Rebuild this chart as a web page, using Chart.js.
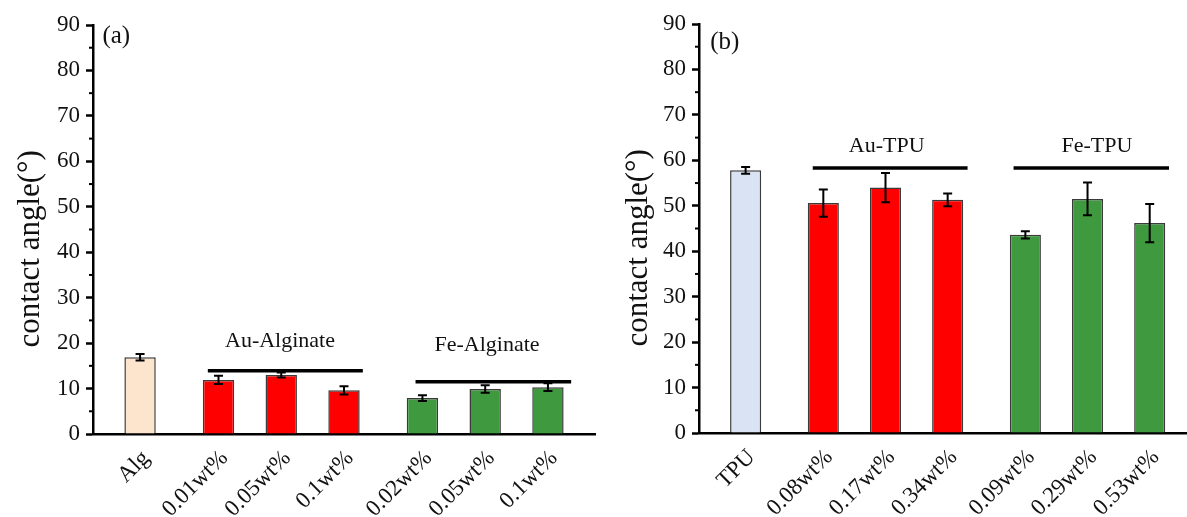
<!DOCTYPE html>
<html>
<head>
<meta charset="utf-8">
<script src="https://cdn.jsdelivr.net/npm/chart.js@4.4.1/dist/chart.umd.min.js"></script>
<style>
  html, body { margin: 0; padding: 0; background: #fff; overflow: hidden; }
  #wrapA { position: absolute; left: 0; top: 0; width: 600px; height: 517px; }
  #wrapB { position: absolute; left: 600px; top: 0; width: 587px; height: 517px; }
</style>
</head>
<body>
<div id="wrapA"><canvas id="chartA"></canvas></div>
<div id="wrapB"><canvas id="chartB"></canvas></div>
<script>
// slots on the x axis: control bar, then two groups of three
const positions = [0, 1.25, 2.25, 3.25, 4.5, 5.5, 6.5];

// (a) alginate
const labelsA = ["Alg", "0.01wt%", "0.05wt%", "0.1wt%", "0.02wt%", "0.05wt%", "0.1wt%"];
const valuesA = [16.9, 11.9, 13.0, 9.6, 7.9, 9.9, 10.3];
const errorsA = [0.7, 0.9, 0.55, 0.9, 0.65, 0.85, 0.85];
const groupNamesA = ["Au-Alginate", "Fe-Alginate"];
const groupSpanA = [[1.08, 3.55], [4.39, 6.87]];
const groupLineA = [13.9, 11.5];
const groupTextA = [[2.23, 20.4], [5.53, 19.5]];

// (b) TPU
const labelsB = ["TPU", "0.08wt%", "0.17wt%", "0.34wt%", "0.09wt%", "0.29wt%", "0.53wt%"];
const valuesB = [57.8, 50.6, 54.0, 51.3, 43.6, 51.5, 46.2];
const errorsB = [0.75, 3.0, 3.2, 1.4, 0.8, 3.6, 4.2];
const groupNamesB = ["Au-TPU", "Fe-TPU"];
const groupSpanB = [[1.08, 3.57], [4.31, 6.81]];
const groupLineB = [58.3, 58.3];
const groupTextB = [[2.27, 63.0], [5.65, 63.0]];

const SERIF = "'Liberation Serif', 'Times New Roman', serif";
const INK = "#111";

function makeDecorations(p) {
  return {
    id: "decorations",
    afterDatasetsDraw(chart) {
      const { ctx } = chart;
      const x = chart.scales.x;
      const y = chart.scales.y;
      ctx.save();

      // error bars
      ctx.strokeStyle = "#000";
      ctx.lineWidth = 2;
      p.values.forEach((v, i) => {
        const px = x.getPixelForValue(positions[i]);
        const top = y.getPixelForValue(v + p.errors[i]);
        const bot = y.getPixelForValue(v - p.errors[i]);
        ctx.beginPath();
        ctx.moveTo(px, top); ctx.lineTo(px, bot);
        ctx.moveTo(px - 4.5, top); ctx.lineTo(px + 4.5, top);
        ctx.moveTo(px - 4.5, bot); ctx.lineTo(px + 4.5, bot);
        ctx.stroke();
      });

      // group brackets + names
      ctx.lineWidth = 3.5;
      ctx.fillStyle = INK;
      ctx.font = "22px " + SERIF;
      ctx.textAlign = "center";
      ctx.textBaseline = "middle";
      p.groupNames.forEach((name, i) => {
        const ly = y.getPixelForValue(p.groupLine[i]);
        ctx.beginPath();
        ctx.moveTo(x.getPixelForValue(p.groupSpan[i][0]), ly);
        ctx.lineTo(x.getPixelForValue(p.groupSpan[i][1]), ly);
        ctx.stroke();
        ctx.fillText(name, x.getPixelForValue(p.groupText[i][0]), y.getPixelForValue(p.groupText[i][1]));
      });

      // minor ticks on y
      ctx.lineWidth = 2;
      for (let v = 5; v < 90; v += 10) {
        const py = y.getPixelForValue(v);
        ctx.beginPath();
        ctx.moveTo(chart.chartArea.left - 4, py);
        ctx.lineTo(chart.chartArea.left, py);
        ctx.stroke();
      }

      // panel letter
      ctx.font = "25px " + SERIF;
      ctx.textAlign = "left";
      ctx.fillText(p.letter, x.getPixelForValue(p.letterAt[0]), y.getPixelForValue(p.letterAt[1]));
      ctx.restore();
    }
  };
}

function makeChart(id, p) {
  const colors = ["", "#FF0000", "#FF0000", "#FF0000", "#3F9A3F", "#3F9A3F", "#3F9A3F"];
  colors[0] = p.controlColor;
  return new Chart(document.getElementById(id), {
    type: "bar",
    data: {
      datasets: [{
        data: positions.map((pos, i) => ({ x: pos, y: p.values[i] })),
        backgroundColor: colors,
        borderColor: "#3a3a3a",
        borderWidth: 1.5,
        categoryPercentage: 1,
        barPercentage: 0.5,
      }],
    },
    options: {
      responsive: true,
      maintainAspectRatio: false,
      animation: false,
      devicePixelRatio: 1,
      layout: { padding: { left: 0, right: p.padRight, top: p.padTop, bottom: 0 } },
      plugins: { legend: { display: false }, tooltip: { enabled: false } },
      scales: {
        x: {
          type: "linear",
          min: -0.75,
          max: p.xMax,
          offset: false,
          bounds: "data",
          grid: { display: false, drawTicks: false },
          border: { display: true, color: "#000", width: 2.5 },
          afterBuildTicks: (axis) => { axis.ticks = positions.map((v) => ({ value: v })); },
          ticks: {
            autoSkip: false,
            minRotation: 45,
            maxRotation: 45,
            padding: 11,
            labelOffset: 6,
            color: INK,
            font: { family: SERIF, size: 23 },
            callback: (v, i) => p.labels[i],
          },
          afterFit: (axis) => { axis.height = p.xHeight; },
        },
        y: {
          min: 0,
          max: 90,
          ticks: { stepSize: 10, padding: 6, color: INK, font: { family: SERIF, size: 23 } },
          grid: { drawOnChartArea: false, drawTicks: true, tickLength: 7, tickWidth: 2.5, tickColor: "#000" },
          border: { color: "#000", width: 2.5 },
          title: {
            display: true,
            text: "contact angle(°)     ",
            color: INK,
            font: { family: SERIF, size: 31, lineHeight: 1.2 },
            padding: { top: p.titlePad, bottom: 0 },
          },
          afterFit: (axis) => { axis.width = p.yWidth; },
        },
      },
    },
    plugins: [makeDecorations(p)],
  });
}

makeChart("chartA", {
  labels: labelsA, values: valuesA, errors: errorsA,
  groupNames: groupNamesA, groupSpan: groupSpanA, groupLine: groupLineA, groupText: groupTextA,
  controlColor: "#FDE5CD", letter: "(a)", letterAt: [-0.6, 87.4],
  xMax: 7.25, padRight: 5, padTop: 25, xHeight: 83, yWidth: 93, titlePad: 12,
});

makeChart("chartB", {
  labels: labelsB, values: valuesB, errors: errorsB,
  groupNames: groupNamesB, groupSpan: groupSpanB, groupLine: groupLineB, groupText: groupTextB,
  controlColor: "#DAE3F3", letter: "(b)", letterAt: [-0.57, 86],
  xMax: 7.1, padRight: 0, padTop: 24, xHeight: 84, yWidth: 99, titlePad: 20,
});
</script>
</body>
</html>
